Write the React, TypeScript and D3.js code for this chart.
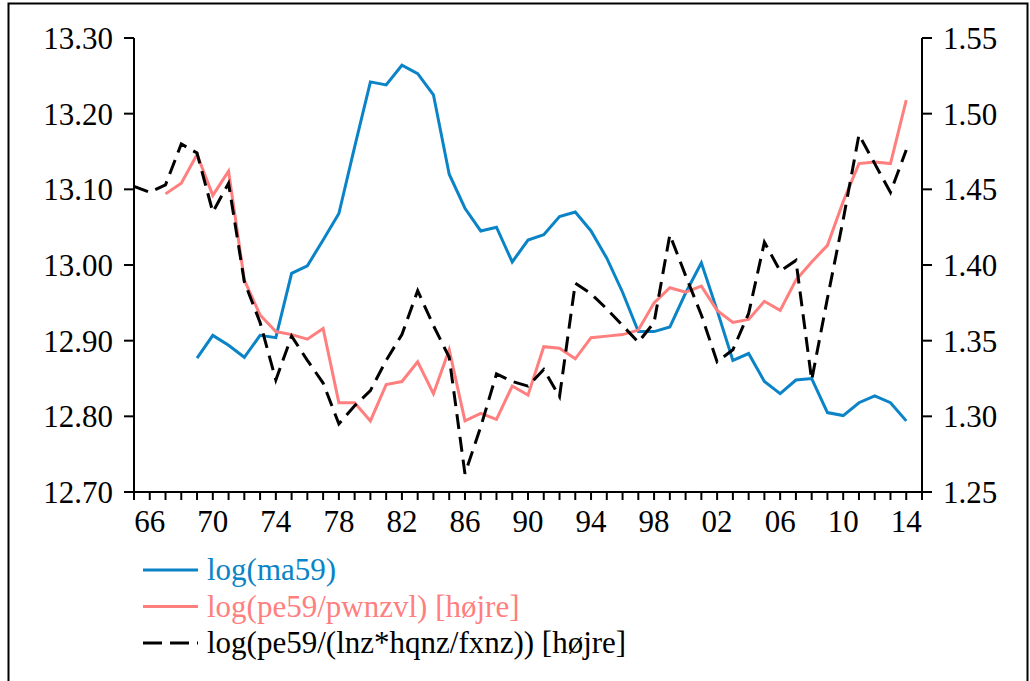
import * as d3 from 'd3';

// log(ma59), left axis, 1969-2014
const ma59Years = d3.range(1969, 2015);
const ma59 = [
  12.877, 12.907, 12.894, 12.878, 12.907, 12.904, 12.989, 12.999, 13.033, 13.068,
  13.156, 13.242, 13.238, 13.264, 13.253, 13.225, 13.12, 13.075, 13.045, 13.05,
  13.004, 13.033, 13.04, 13.064, 13.07, 13.045, 13.009, 12.964, 12.912, 12.912,
  12.918, 12.963, 13.003, 12.94, 12.874, 12.883, 12.846, 12.83, 12.848, 12.85,
  12.805, 12.801, 12.818, 12.827, 12.818, 12.794,
];

// log(pe59/pwnzvl), right axis, 1967-2014
const pwnzvlYears = d3.range(1967, 2015);
const pwnzvl = [
  1.447, 1.454, 1.473, 1.446, 1.462, 1.39, 1.367, 1.356, 1.354, 1.351,
  1.358, 1.309, 1.309, 1.297, 1.321, 1.323, 1.336, 1.315, 1.344, 1.297,
  1.302, 1.298, 1.32, 1.314, 1.346, 1.345, 1.338, 1.352, 1.353, 1.354,
  1.357, 1.375, 1.385, 1.382, 1.386, 1.37, 1.362, 1.364, 1.376, 1.37,
  1.39, 1.402, 1.413, 1.442, 1.467, 1.468, 1.467, 1.509,
];

// log(pe59/(lnz*hqnz/fxnz)), right axis, 1965-2014
const lnzYears = d3.range(1965, 2015);
const lnz = [
  1.452, 1.448, 1.453, 1.48, 1.474, 1.435, 1.454, 1.389, 1.362, 1.324,
  1.353, 1.337, 1.322, 1.295, 1.307, 1.317, 1.337, 1.354, 1.383, 1.36,
  1.339, 1.262, 1.293, 1.328, 1.323, 1.32, 1.331, 1.313, 1.388, 1.381,
  1.371, 1.36, 1.349, 1.362, 1.42, 1.393, 1.367, 1.336, 1.344, 1.368,
  1.415, 1.396, 1.403, 1.324, 1.378, 1.43, 1.486, 1.467, 1.448, 1.476,
];

const leftTicks = [12.7, 12.8, 12.9, 13.0, 13.1, 13.2, 13.3];
const rightTicks = [1.25, 1.3, 1.35, 1.4, 1.45, 1.5, 1.55];
const yearTicks = d3.range(1965, 2016);
const yearLabels = d3.range(1966, 2015, 4);

const legendItems = [
  { label: 'log(ma59)', color: '#0a84c6', dash: undefined },
  { label: 'log(pe59/pwnzvl) [højre]', color: '#ff7f7f', dash: undefined },
  { label: 'log(pe59/(lnz*hqnz/fxnz)) [højre]', color: '#000000', dash: '19 8' },
];

const W = 1030;
const H = 681;
const margin = { left: 134, right: 108, top: 38, bottom: 189 };
const fontStyle = { fontFamily: "'Times New Roman'" };
const fontSize = 31;

const x = d3.scaleLinear().domain([1965, 2015]).range([margin.left, W - margin.right]);
const yL = d3.scaleLinear().domain([12.7, 13.3]).range([H - margin.bottom, margin.top]);
const yR = d3.scaleLinear().domain([1.25, 1.55]).range([H - margin.bottom, margin.top]);
const fmt = d3.format('.2f');

const lineL = d3
  .line()
  .x((d) => x(d[0]))
  .y((d) => yL(d[1]));
const lineR = d3
  .line()
  .x((d) => x(d[0]))
  .y((d) => yR(d[1]));

const App = () => {
  const y0 = H - margin.bottom;
  const xr = W - margin.right;
  return (
    <svg
      width={W}
      height={H}
      style={{ display: 'block', position: 'absolute', left: 0, top: 0 }}
    >
      <rect x={8.5} y={3.5} width={1019} height={700} fill="white" stroke="#000" strokeWidth={2} />

      {/* x axis */}
      <line x1={margin.left} x2={xr} y1={y0} y2={y0} stroke="#000" strokeWidth={2} />
      {yearTicks.map((yr) => (
        <line key={yr} x1={x(yr)} x2={x(yr)} y1={y0} y2={y0 + 8} stroke="#000" strokeWidth={2} />
      ))}
      {yearLabels.map((yr) => (
        <text
          key={yr}
          x={x(yr)}
          y={y0 + 40}
          textAnchor="middle"
          fontSize={fontSize}
          style={fontStyle}
        >
          {String(yr % 100).padStart(2, '0')}
        </text>
      ))}

      {/* left axis */}
      <line x1={margin.left} x2={margin.left} y1={margin.top} y2={y0} stroke="#000" strokeWidth={2} />
      {leftTicks.map((t) => (
        <g key={t}>
          <line x1={margin.left - 10} x2={margin.left} y1={yL(t)} y2={yL(t)} stroke="#000" strokeWidth={2} />
          <text
            x={margin.left - 21}
            y={yL(t)}
            dy="0.35em"
            textAnchor="end"
            fontSize={fontSize}
            style={fontStyle}
          >
            {fmt(t)}
          </text>
        </g>
      ))}

      {/* right axis */}
      <line x1={xr} x2={xr} y1={margin.top} y2={y0} stroke="#000" strokeWidth={2} />
      {rightTicks.map((t) => (
        <g key={t}>
          <line x1={xr} x2={xr + 10} y1={yR(t)} y2={yR(t)} stroke="#000" strokeWidth={2} />
          <text x={xr + 21} y={yR(t)} dy="0.35em" fontSize={fontSize} style={fontStyle}>
            {fmt(t)}
          </text>
        </g>
      ))}

      {/* series */}
      <path
        d={lineL(d3.zip(ma59Years, ma59))}
        fill="none"
        stroke={legendItems[0].color}
        strokeWidth={3}
      />
      <path
        d={lineR(d3.zip(pwnzvlYears, pwnzvl))}
        fill="none"
        stroke={legendItems[1].color}
        strokeWidth={3}
      />
      <path
        d={lineR(d3.zip(lnzYears, lnz))}
        fill="none"
        stroke="#000"
        strokeWidth={3}
        strokeDasharray="15 8"
      />

      {/* legend */}
      <g transform="translate(143, 570)">
        {legendItems.map((item, i) => (
          <g key={item.label} transform={`translate(0, ${i * 36.5})`}>
            <line
              x1={0}
              x2={55}
              y1={0}
              y2={0}
              stroke={item.color}
              strokeWidth={3}
              strokeDasharray={item.dash}
            />
            <text x={64} y={10} fontSize={fontSize} fill={item.color} style={fontStyle}>
              {item.label}
            </text>
          </g>
        ))}
      </g>
    </svg>
  );
};

export default App;
